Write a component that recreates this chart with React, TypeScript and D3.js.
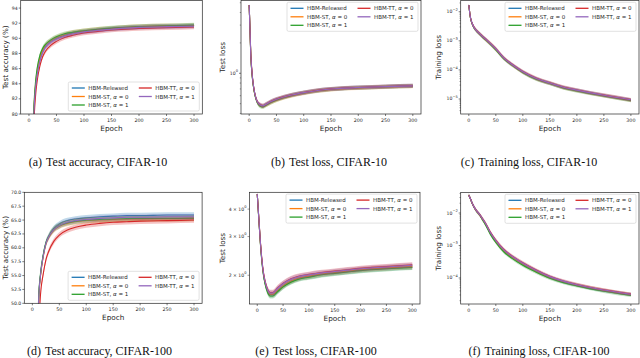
import React from 'react';
import * as d3 from 'd3';

const epochs = [0, 3, 6, 9, 12, 15, 20, 25, 30, 40, 50, 65, 80, 100, 125, 150, 175, 200, 250, 300];

const seriesNames = ['HBM-Released', 'HBM-ST, α = 0', 'HBM-ST, α = 1', 'HBM-TT, α = 0', 'HBM-TT, α = 1'];
const seriesColors = ['#1f77b4', '#ff7f0e', '#2ca02c', '#d62728', '#9467bd'];
const xTickValues = [0, 50, 100, 150, 200, 250, 300];

// (a) test accuracy, CIFAR-10
const accC10Released = [30, 55, 72, 80.3, 83.6, 85.4, 87.2, 88.3, 88.9, 89.6, 90.0, 90.4, 90.7, 90.9, 91.1, 91.3, 91.4, 91.5, 91.6, 91.7];
const accC10St0 = [31, 56, 73, 80.6, 83.9, 85.7, 87.5, 88.5, 89.1, 89.7, 90.1, 90.5, 90.8, 91.0, 91.2, 91.3, 91.45, 91.55, 91.65, 91.7];
const accC10St1 = [32, 57, 74, 81.0, 84.3, 86.1, 87.8, 88.7, 89.2, 89.8, 90.2, 90.6, 90.8, 91.0, 91.2, 91.35, 91.45, 91.55, 91.65, 91.75];
const accC10Tt0 = [25, 50, 68, 78.5, 82.4, 84.4, 86.4, 87.6, 88.3, 89.1, 89.6, 90.1, 90.4, 90.7, 90.9, 91.1, 91.2, 91.3, 91.4, 91.5];
const accC10Tt1 = [29, 54, 71, 80.0, 83.4, 85.2, 87.0, 88.1, 88.8, 89.5, 89.9, 90.3, 90.6, 90.85, 91.05, 91.2, 91.35, 91.45, 91.55, 91.6];

// (b) test loss, CIFAR-10
const lossC10Released = [4.75, 1.5, 0.9, 0.68, 0.575, 0.52, 0.485, 0.475, 0.49, 0.525, 0.552, 0.585, 0.612, 0.642, 0.675, 0.697, 0.712, 0.722, 0.737, 0.75];
const lossC10St0 = [4.75, 1.48, 0.89, 0.67, 0.57, 0.515, 0.48, 0.47, 0.482, 0.515, 0.54, 0.575, 0.603, 0.635, 0.668, 0.69, 0.705, 0.716, 0.732, 0.745];
const lossC10St1 = [4.75, 1.46, 0.88, 0.665, 0.565, 0.51, 0.472, 0.465, 0.48, 0.515, 0.545, 0.58, 0.608, 0.64, 0.672, 0.695, 0.71, 0.72, 0.735, 0.748];
const lossC10Tt0 = [4.75, 1.55, 0.92, 0.69, 0.58, 0.525, 0.49, 0.478, 0.492, 0.527, 0.555, 0.588, 0.615, 0.645, 0.678, 0.7, 0.714, 0.724, 0.739, 0.752];
const lossC10Tt1 = [4.75, 1.52, 0.91, 0.685, 0.578, 0.522, 0.488, 0.476, 0.49, 0.525, 0.553, 0.586, 0.613, 0.643, 0.676, 0.698, 0.713, 0.723, 0.738, 0.751];

// (c) training loss, CIFAR-10
const trainC10Released = [0.017, 0.0063, 0.004, 0.003, 0.0025, 0.00214, 0.00174, 0.00141, 0.00117, 7.9e-4, 5.2e-4, 2.5e-4, 1.51e-4, 8.5e-5, 5.0e-5, 3.5e-5, 2.5e-5, 2.0e-5, 1.32e-5, 9.3e-6];
const trainC10St0 = [0.017, 0.0062, 0.0039, 0.003, 0.00248, 0.00212, 0.00172, 0.00139, 0.00115, 7.7e-4, 5.0e-4, 2.45e-4, 1.48e-4, 8.3e-5, 4.9e-5, 3.45e-5, 2.45e-5, 1.95e-5, 1.3e-5, 9.0e-6];
const trainC10St1 = [0.017, 0.0061, 0.0039, 0.00295, 0.00245, 0.0021, 0.0017, 0.00137, 0.00113, 7.6e-4, 4.9e-4, 2.4e-4, 1.46e-4, 8.2e-5, 4.8e-5, 3.4e-5, 2.4e-5, 1.9e-5, 1.28e-5, 8.8e-6];
const trainC10Tt0 = [0.017, 0.0065, 0.0041, 0.0031, 0.00255, 0.00218, 0.00178, 0.00145, 0.0012, 8.2e-4, 5.4e-4, 2.6e-4, 1.56e-4, 8.8e-5, 5.2e-5, 3.6e-5, 2.6e-5, 2.05e-5, 1.36e-5, 9.5e-6];
const trainC10Tt1 = [0.017, 0.0064, 0.0041, 0.00305, 0.00252, 0.00216, 0.00176, 0.00143, 0.00119, 8.0e-4, 5.3e-4, 2.55e-4, 1.54e-4, 8.7e-5, 5.1e-5, 3.55e-5, 2.55e-5, 2.02e-5, 1.34e-5, 9.4e-6];

// (d) test accuracy, CIFAR-100
const accC100Released = [10, 20, 30, 42, 51.5, 55, 58.5, 60.8, 62.0, 63.5, 64.3, 64.9, 65.2, 65.4, 65.6, 65.7, 65.8, 65.8, 65.9, 65.9];
const accC100St0 = [10, 20, 30, 42, 51.3, 54.8, 58.3, 60.6, 61.8, 63.2, 63.9, 64.4, 64.7, 64.9, 65.0, 65.1, 65.2, 65.2, 65.25, 65.3];
const accC100St1 = [10, 20, 30, 42.5, 51.8, 55.3, 58.7, 60.9, 62.0, 63.4, 64.0, 64.5, 64.8, 65.0, 65.1, 65.2, 65.25, 65.3, 65.3, 65.35];
const accC100Tt0 = [8, 16, 25, 36, 46, 51.5, 55.2, 57.8, 59.3, 61.2, 62.3, 63.2, 63.7, 64.1, 64.4, 64.6, 64.7, 64.8, 64.9, 65.0];
const accC100Tt1 = [10, 20, 30, 42, 51.4, 55, 58.4, 60.7, 61.9, 63.3, 64.0, 64.6, 64.9, 65.1, 65.3, 65.4, 65.5, 65.5, 65.6, 65.6];

// (e) test loss, CIFAR-100
const lossC100Released = [4.69, 3.62, 2.82, 2.32, 2.02, 1.85, 1.69, 1.63, 1.63, 1.7, 1.78, 1.87, 1.93, 1.97, 2.02, 2.05, 2.08, 2.11, 2.15, 2.18];
const lossC100St0 = [4.69, 3.62, 2.83, 2.33, 2.03, 1.86, 1.7, 1.64, 1.64, 1.71, 1.79, 1.88, 1.94, 1.98, 2.03, 2.06, 2.09, 2.12, 2.16, 2.19];
const lossC100St1 = [4.69, 3.6, 2.8, 2.3, 2.0, 1.83, 1.67, 1.61, 1.61, 1.69, 1.77, 1.86, 1.92, 1.96, 2.01, 2.04, 2.07, 2.1, 2.14, 2.17];
const lossC100Tt0 = [4.69, 3.66, 2.86, 2.36, 2.06, 1.89, 1.73, 1.67, 1.67, 1.76, 1.84, 1.93, 1.98, 2.02, 2.06, 2.09, 2.12, 2.15, 2.19, 2.23];
const lossC100Tt1 = [4.69, 3.65, 2.85, 2.35, 2.05, 1.88, 1.72, 1.66, 1.66, 1.75, 1.83, 1.92, 1.97, 2.01, 2.05, 2.08, 2.11, 2.14, 2.18, 2.22];

// (f) training loss, CIFAR-100
const trainC100Released = [0.0355, 0.0275, 0.0204, 0.0162, 0.0132, 0.0112, 0.0089, 0.0066, 0.0049, 0.0024, 0.00135, 6.9e-4, 4.4e-4, 2.7e-4, 1.62e-4, 1.05e-4, 7.6e-5, 6.0e-5, 4.1e-5, 3.1e-5];
const trainC100St0 = [0.0355, 0.0274, 0.0203, 0.0161, 0.0131, 0.0111, 0.0088, 0.0065, 0.0048, 0.00235, 0.00132, 6.8e-4, 4.35e-4, 2.68e-4, 1.61e-4, 1.05e-4, 7.7e-5, 6.1e-5, 4.2e-5, 3.15e-5];
const trainC100St1 = [0.0355, 0.0273, 0.0202, 0.016, 0.013, 0.011, 0.0087, 0.0063, 0.0046, 0.0022, 0.00124, 6.3e-4, 4.0e-4, 2.45e-4, 1.5e-4, 9.8e-5, 7.2e-5, 5.7e-5, 3.9e-5, 2.9e-5];
const trainC100Tt0 = [0.0355, 0.0277, 0.0206, 0.0164, 0.0134, 0.0114, 0.0091, 0.0069, 0.0052, 0.0026, 0.00148, 7.6e-4, 4.8e-4, 2.95e-4, 1.75e-4, 1.12e-4, 8.1e-5, 6.3e-5, 4.3e-5, 3.2e-5];
const trainC100Tt1 = [0.0355, 0.0276, 0.0205, 0.0163, 0.0133, 0.0113, 0.009, 0.0068, 0.0051, 0.0025, 0.00142, 7.3e-4, 4.65e-4, 2.85e-4, 1.7e-4, 1.1e-4, 8.0e-5, 6.2e-5, 4.25e-5, 3.15e-5];

// band half-widths (data units, or decades on log axes)
const spreads = [0.3, 0.02, 0.06, 0.5, 0.012, 0.05];

type Panel = {
  caption: string;
  tag: string;
  left: number; right: number; top: number; bottom: number;
  yDomain: [number, number];
  log: boolean;
  series: number[][];
  spread: number;
  ylabel: string;
  ylabelX: number;
  legend: 'upper' | 'lower';
  captionX: number; captionY: number;
  linTicks?: number[];
  linFmt?: (v: number) => string;
  labelMinor?: boolean;
};

const panels: Panel[] = [
  { tag: '(a)', caption: 'Test accuracy, CIFAR-10', left: 20.7, right: 202.3, top: 0.5, bottom: 114,
    yDomain: [80, 95], log: false, series: [accC10Released, accC10St0, accC10St1, accC10Tt0, accC10Tt1],
    spread: spreads[0], ylabel: 'Test accuracy (%)', ylabelX: 5, legend: 'lower', captionX: 98, captionY: 166,
    linTicks: d3.range(80, 95, 2), linFmt: (v) => String(v) },
  { tag: '(b)', caption: 'Test loss, CIFAR-10', left: 241, right: 421, top: 0.5, bottom: 114,
    yDomain: [0.395, 5.26], log: true, series: [lossC10Released, lossC10St0, lossC10St1, lossC10Tt0, lossC10Tt1],
    spread: spreads[1], ylabel: 'Test loss', ylabelX: 222, legend: 'upper', captionX: 329, captionY: 166 },
  { tag: '(c)', caption: 'Training loss, CIFAR-10', left: 460.7, right: 639, top: 0.5, bottom: 114,
    yDomain: [3.05e-6, 0.0243], log: true, series: [trainC10Released, trainC10St0, trainC10St1, trainC10Tt0, trainC10Tt1],
    spread: spreads[2], ylabel: 'Training loss', ylabelX: 438.5, legend: 'upper', captionX: 529, captionY: 166 },
  { tag: '(d)', caption: 'Test accuracy, CIFAR-100', left: 24.3, right: 202.1, top: 192.3, bottom: 303.3,
    yDomain: [50, 70], log: false, series: [accC100Released, accC100St0, accC100St1, accC100Tt0, accC100Tt1],
    spread: spreads[3], ylabel: 'Test accuracy (%)', ylabelX: 5, legend: 'lower', captionX: 99.5, captionY: 354.5,
    linTicks: d3.range(50, 70.01, 2.5), linFmt: (v) => v.toFixed(1) },
  { tag: '(e)', caption: 'Test loss, CIFAR-100', left: 249.5, right: 420, top: 192.3, bottom: 304,
    yDomain: [1.48, 4.77], log: true, series: [lossC100Released, lossC100St0, lossC100St1, lossC100Tt0, lossC100Tt1],
    spread: spreads[4], ylabel: 'Test loss', ylabelX: 222, legend: 'upper', captionX: 316, captionY: 354.5, labelMinor: true },
  { tag: '(f)', caption: 'Training loss, CIFAR-100', left: 460.7, right: 639, top: 192.5, bottom: 304,
    yDomain: [1.58e-5, 0.0428], log: true, series: [trainC100Released, trainC100St0, trainC100St1, trainC100Tt0, trainC100Tt1],
    spread: spreads[5], ylabel: 'Training loss', ylabelX: 438.5, legend: 'upper', captionX: 539, captionY: 354.5 },
];

const sans = 'DejaVu Sans, sans-serif';
const ink = '#262626';

const LegendLabel = ({ name }: { name: string }) => {
  const i = name.indexOf('α');
  if (i < 0) return <>{name}</>;
  return (
    <>
      {name.slice(0, i)}
      <tspan fontStyle="italic">α</tspan>
      {name.slice(i + 1)}
    </>
  );
};

const Legend = ({ p }: { p: Panel }) => {
  const w = 131;
  const h = 29;
  const x = p.right - 3 - w;
  const y = p.legend === 'upper' ? p.top + 1.8 : p.bottom - 3 - h;
  const rows = [0, 1, 2];
  // column layout as matplotlib fills it: 3 rows, then next column
  const slots = seriesNames.map((_, i) => ({ col: Math.floor(i / 3), row: i % 3 }));
  return (
    <g>
      <rect x={x} y={y} width={w} height={h} rx={1.5} fill="white" fillOpacity={0.8} stroke="#cccccc" strokeWidth={0.6} />
      {slots.map(({ col, row }, i) => {
        const hx = x + 3.5 + col * 67;
        const cy = y + 6 + rows[row] * 8.5;
        return (
          <g key={i}>
            <line x1={hx} x2={hx + 13} y1={cy} y2={cy} stroke={seriesColors[i]} strokeWidth={1.3} />
            <text x={hx + 16.5} y={cy} fontSize={5.5} fontFamily={sans} fill={ink} dominantBaseline="central">
              <LegendLabel name={seriesNames[i]} />
            </text>
          </g>
        );
      })}
    </g>
  );
};

const Sup = ({ base, exp }: { base: string; exp: number }) => (
  <>
    {base}
    <tspan dy={-2.2} fontSize={3.6}>{exp < 0 ? `−${-exp}` : String(exp)}</tspan>
  </>
);

const Chart = ({ p, idx }: { p: Panel; idx: number }) => {
  const x = d3.scaleLinear().domain([-15, 315]).range([p.left, p.right]);
  const y = p.log
    ? d3.scaleLog().domain(p.yDomain).range([p.bottom, p.top])
    : d3.scaleLinear().domain(p.yDomain).range([p.bottom, p.top]);

  const lower = (v: number) => (p.log ? v / Math.pow(10, p.spread) : v - p.spread);
  const upper = (v: number) => (p.log ? v * Math.pow(10, p.spread) : v + p.spread);

  const line = d3.line<number>()
    .x((_, i) => x(epochs[i]))
    .y((v) => y(v))
    .curve(d3.curveMonotoneX);
  const band = d3.area<number>()
    .x((_, i) => x(epochs[i]))
    .y0((v) => y(lower(v)))
    .y1((v) => y(upper(v)))
    .curve(d3.curveMonotoneX);

  // y ticks
  type Tick = { v: number; major: boolean; label: React.ReactNode | null };
  let yTicks: Tick[] = [];
  if (!p.log) {
    yTicks = (p.linTicks || []).map((v) => ({ v, major: true, label: p.linFmt ? p.linFmt(v) : String(v) }));
  } else {
    const [lo, hi] = p.yDomain;
    for (let n = Math.floor(Math.log10(lo)); n <= Math.ceil(Math.log10(hi)); n++) {
      for (let k = 1; k <= 9; k++) {
        const v = k * Math.pow(10, n);
        if (v < lo || v > hi) continue;
        if (k === 1) yTicks.push({ v, major: true, label: <Sup base="10" exp={n} /> });
        else if (p.labelMinor) yTicks.push({ v, major: false, label: <Sup base={`${k} × 10`} exp={n} /> });
        else yTicks.push({ v, major: false, label: null });
      }
    }
  }

  const clipId = `clip-${idx}`;
  const midY = (p.top + p.bottom) / 2;

  return (
    <g>
      <defs>
        <clipPath id={clipId}>
          <rect x={p.left} y={p.top} width={p.right - p.left} height={p.bottom - p.top} />
        </clipPath>
      </defs>
      <g clipPath={`url(#${clipId})`}>
        {p.series.map((s, i) => (
          <g key={i}>
            <path d={band(s) || ''} fill={seriesColors[i]} fillOpacity={0.28} stroke="none" />
            <path d={line(s) || ''} fill="none" stroke={seriesColors[i]} strokeWidth={1.1} />
          </g>
        ))}
      </g>
      <rect x={p.left} y={p.top} width={p.right - p.left} height={p.bottom - p.top} fill="none" stroke={ink} strokeWidth={0.7} />

      {xTickValues.map((t) => (
        <g key={t} transform={`translate(${x(t)}, ${p.bottom})`}>
          <line y2={2} stroke={ink} strokeWidth={0.6} />
          <text y={6} fontSize={4.8} fontFamily={sans} fill={ink} textAnchor="middle" dominantBaseline="central">{t}</text>
        </g>
      ))}
      <text x={(p.left + p.right) / 2} y={p.bottom + 14} fontSize={7.3} fontFamily={sans} fill={ink} textAnchor="middle" dominantBaseline="central">Epoch</text>

      {yTicks.map((t, i) => (
        <g key={i} transform={`translate(${p.left}, ${y(t.v)})`}>
          <line x2={t.major || t.label ? -2 : -1.2} stroke={ink} strokeWidth={t.major ? 0.6 : 0.45} />
          {t.label && (
            <text x={-3} fontSize={4.6} fontFamily={sans} fill={ink} textAnchor="end" dominantBaseline="central">{t.label}</text>
          )}
        </g>
      ))}
      <text transform={`translate(${p.ylabelX}, ${midY}) rotate(-90)`} fontSize={7.2} fontFamily={sans} fill={ink} textAnchor="middle" dominantBaseline="central">
        {p.ylabel}
      </text>

      <Legend p={p} />

      <text x={p.captionX} y={p.captionY} fontSize={12} fontFamily="Liberation Serif, serif" fill="#111" textAnchor="middle">
        {p.tag}
        <tspan dx={4}>{p.caption}</tspan>
      </text>
    </g>
  );
};

export default function App() {
  return (
    <svg width={640} height={358} style={{ position: 'absolute', left: 0, top: 0, background: 'white' }}>
      {panels.map((p, i) => <Chart key={i} p={p} idx={i} />)}
    </svg>
  );
}
